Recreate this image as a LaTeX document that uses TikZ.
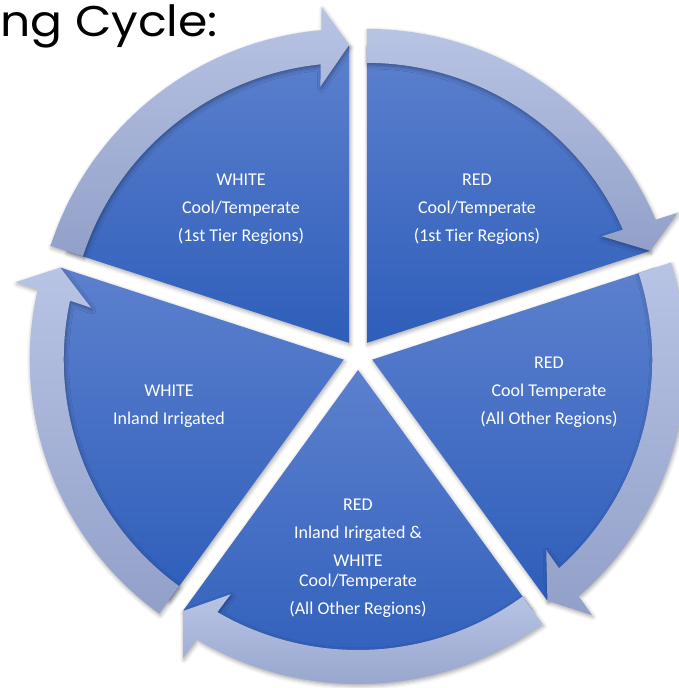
\documentclass[tikz,border=0pt]{standalone}
\usepackage{fontspec}
\setmainfont{Carlito}
\newfontfamily\titlefont[FakeStretch=1.1]{Poppins}
\usetikzlibrary{shadows.blur}
\definecolor{segtop}{RGB}{92,128,206}
\definecolor{segbot}{RGB}{46,94,186}
\definecolor{arrtop}{RGB}{184,196,228}
\definecolor{arrbot}{RGB}{146,160,201}
\begin{document}
\begin{tikzpicture}[x=1pt,y=1pt]
    \tikzstyle{segment}=[top color=segtop, bottom color=segbot, blur shadow={shadow xshift=1pt, shadow yshift=-2pt, shadow blur radius=4pt, shadow opacity=35}]
    \tikzstyle{arrowband}=[top color=arrtop, bottom color=arrbot, blur shadow={shadow xshift=1pt, shadow yshift=-2pt, shadow blur radius=4pt, shadow opacity=35}]
    \tikzstyle{labels}=[text=white, align=center, inner sep=0pt, font=\fontsize{18}{28}\selectfont]
    \useasboundingbox (-358,-333) rectangle (321,355);
    \node[anchor=base west, inner sep=0pt, font=\titlefont\fontsize{43}{50}\selectfont] (title) at (-358,318) {ng Cycle:};

    % pie segments, each pushed out along its middle
    \path[segment, shift={(54:15)}] (0,0) -- (18:297) arc[start angle=18, end angle=90, radius=297] -- cycle;
    \path[segment, shift={(-18:15)}] (0,0) -- (-54:297) arc[start angle=-54, end angle=18, radius=297] -- cycle;
    \path[segment, shift={(-90:15)}] (0,0) -- (-126:297) arc[start angle=-126, end angle=-54, radius=297] -- cycle;
    \path[segment, shift={(198:15)}] (0,0) -- (162:297) arc[start angle=162, end angle=234, radius=297] -- cycle;
    \path[segment, shift={(126:15)}] (0,0) -- (90:297) arc[start angle=90, end angle=162, radius=297] -- cycle;

    % arrows round the rim
    \path[arrowband, shift={(54:15)}] (90:280) -- (90:314) arc[start angle=90, end angle=23.1, radius=314] -- (22.7:337) -- (18:298) -- (24.4:258) -- (23.85:280) arc[start angle=23.85, end angle=90, radius=280] -- cycle;
    \path[arrowband, shift={(-18:15)}] (18:280) -- (18:314) arc[start angle=18, end angle=-48.9, radius=314] -- (-49.3:337) -- (-54:298) -- (-47.6:258) -- (-48.15:280) arc[start angle=-48.15, end angle=18, radius=280] -- cycle;
    \path[arrowband, shift={(-90:15)}] (-54:280) -- (-54:314) arc[start angle=-54, end angle=-120.9, radius=314] -- (-121.3:337) -- (-126:298) -- (-119.6:258) -- (-120.15:280) arc[start angle=-120.15, end angle=-54, radius=280] -- cycle;
    \path[arrowband, shift={(198:15)}] (234:280) -- (234:314) arc[start angle=234, end angle=167.1, radius=314] -- (166.7:337) -- (162:298) -- (168.4:258) -- (167.85:280) arc[start angle=167.85, end angle=234, radius=280] -- cycle;
    \path[arrowband, shift={(126:15)}] (162:280) -- (162:314) arc[start angle=162, end angle=95.1, radius=314] -- (94.7:337) -- (90:298) -- (96.4:258) -- (95.85:280) arc[start angle=95.85, end angle=162, radius=280] -- cycle;

    \node[labels] (whitetier) at (-117,145.5) {WHITE\\Cool/Temperate\\(1st Tier Regions)};
    \node[labels] (redtier) at (119,145.5) {RED\\Cool/Temperate\\(1st Tier Regions)};
    \node[labels] (redother) at (191,-37) {RED\\Cool Temperate\\(All Other Regions)};
    \node[labels] (whiteinland) at (-189,-51) {WHITE\\Inland Irrigated};
    \node[labels] (mixed) at (0,-203.5) {RED\\Inland Irirgated \&\\WHITE\\[-8pt]Cool/Temperate\\(All Other Regions)};
\end{tikzpicture}
\end{document}
